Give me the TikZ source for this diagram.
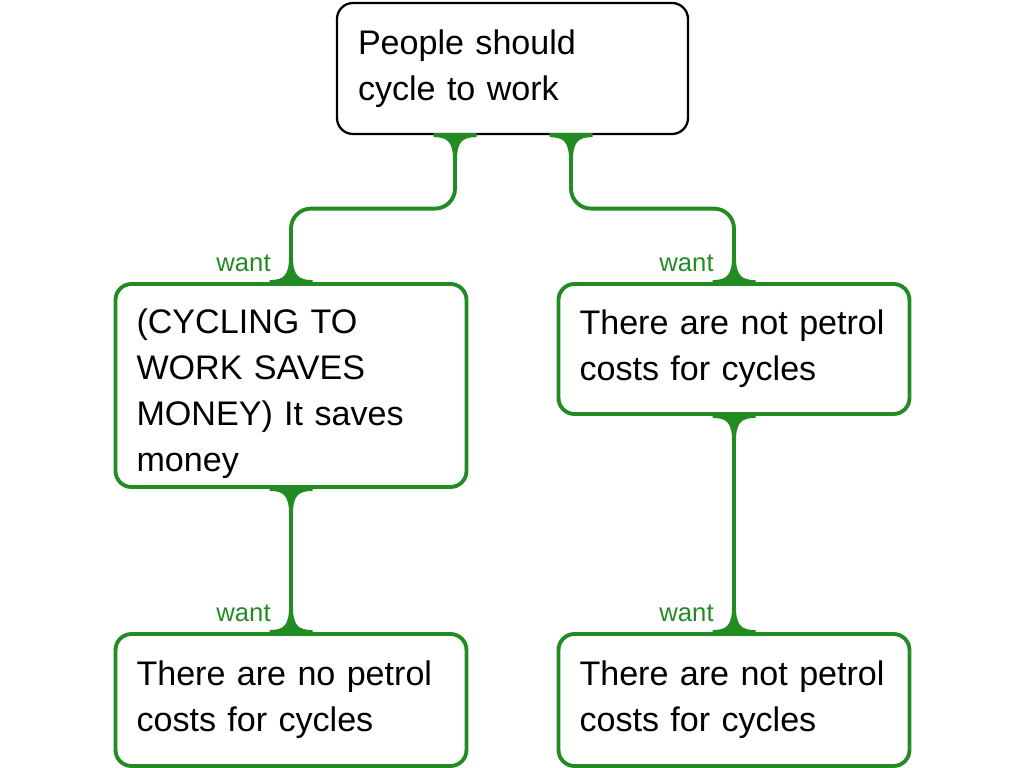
\documentclass[tikz,border=0pt]{standalone}
\usepackage{fontspec}
\setmainfont{Liberation Sans}
\usetikzlibrary{calc}
\definecolor{wantgreen}{RGB}{34,139,34}
\tikzset{
  claim/.style={draw=black, line width=1.3pt, rounded corners=0.32cm, align=left,
    text width=6.18cm, inner xsep=0.42cm, minimum width=7.02cm,
    font=\fontsize{19.4}{26.2}\selectfont},
  reason/.style={claim, draw=wantgreen, line width=2.2pt},
  link/.style={wantgreen, line width=2.2pt, rounded corners=0.4cm},
  wantlabel/.style={text=wantgreen, inner sep=0pt, font=\fontsize{14.6}{16}\selectfont},
  flare/.pic={
    \fill[wantgreen] (-0.43,0.04) -- (-0.43,-0.04) .. controls (-0.14,-0.04) and (-0.04,-0.14) .. (-0.04,-0.5)
      -- (0.04,-0.5) .. controls (0.04,-0.14) and (0.14,-0.04) .. (0.43,-0.04) -- (0.43,0.04) -- cycle;
  }
}
\begin{document}
\begin{tikzpicture}
    \useasboundingbox (0,0) rectangle (20.48,-15.36);

    % claims and reasons
    \node[claim, minimum height=2.62cm] (cycle) at (10.25,-1.37) {People should\\cycle to work};
    \node[reason, minimum height=4.06cm] (saves) at (5.82,-7.71) {\rule{0pt}{23pt}(CYCLING TO\\WORK SAVES\\MONEY) It saves\\money};
    \node[reason, minimum height=2.6cm] (notpetrol) at (14.68,-6.98) {There are not petrol\\costs for cycles};
    \node[reason, minimum height=2.64cm] (nopetrol) at (5.82,-14.0) {There are no petrol\\costs for cycles};
    \node[reason, minimum height=2.64cm] (notpetrolb) at (14.68,-14.0) {There are not petrol\\costs for cycles};

    % links
    \coordinate (stemL) at ([xshift=-1.15cm]cycle.south);
    \coordinate (stemR) at ([xshift=1.17cm]cycle.south);
    \coordinate (mid) at ($(cycle.south)!0.5!(saves.north)$);
    \draw[link] (stemL) |- (saves.north |- mid) -- (saves.north);
    \draw[link] (stemR) |- (notpetrol.north |- mid) -- (notpetrol.north);
    \draw[link] (saves.south) -- (nopetrol.north);
    \draw[link] (notpetrol.south) -- (notpetrolb.north);

    \pic at (stemL) {flare};
    \pic at (stemR) {flare};
    \pic at (saves.south) {flare};
    \pic at (notpetrol.south) {flare};
    \pic[rotate=180] at (saves.north) {flare};
    \pic[rotate=180] at (notpetrol.north) {flare};
    \pic[rotate=180] at (nopetrol.north) {flare};
    \pic[rotate=180] at (notpetrolb.north) {flare};

    % labels
    \node[wantlabel, anchor=east] (wantA) at ([xshift=-0.4cm,yshift=0.38cm]saves.north) {want};
    \node[wantlabel, anchor=east] (wantB) at ([xshift=-0.4cm,yshift=0.38cm]notpetrol.north) {want};
    \node[wantlabel, anchor=east] (wantC) at ([xshift=-0.4cm,yshift=0.38cm]nopetrol.north) {want};
    \node[wantlabel, anchor=east] (wantD) at ([xshift=-0.4cm,yshift=0.38cm]notpetrolb.north) {want};
\end{tikzpicture}
\end{document}
